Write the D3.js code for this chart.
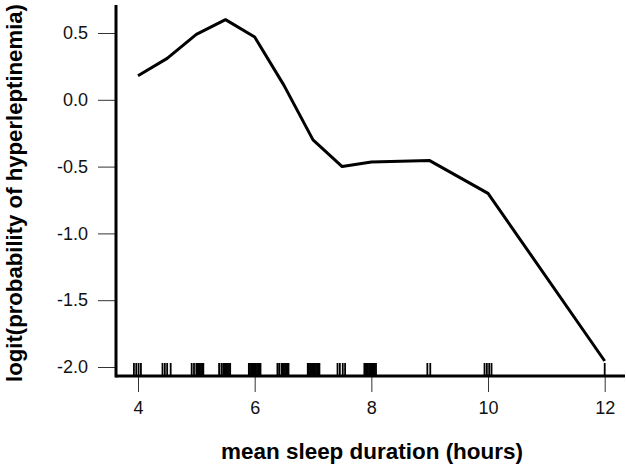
<!DOCTYPE html>
<html>
<head>
<meta charset="utf-8">
<script src="https://cdn.jsdelivr.net/npm/d3@7"></script>
<style>
  html, body { margin: 0; padding: 0; background: #fff; }
  svg { display: block; font-family: "Liberation Sans", Arial, sans-serif; }
</style>
</head>
<body>
<svg id="chart" width="626" height="468"></svg>
<script>
// fitted curve (mean sleep duration vs logit)
const sleepHours = [4, 4.5, 5, 5.5, 6, 6.5, 7, 7.5, 8, 8.5, 9, 10, 12];
const logitValues = [0.18, 0.31, 0.49, 0.60, 0.47, 0.11, -0.30, -0.50, -0.465, -0.46, -0.455, -0.70, -1.955];

// rug of observed sleep durations
const rugHours = [
  3.93, 3.97, 4.01, 4.05,
  4.42, 4.46, 4.50, 4.56,
  4.92, 4.96, 5.00, 5.02, 5.04, 5.06, 5.08, 5.10, 5.12,
  5.39, 5.43, 5.46, 5.48, 5.50, 5.52, 5.54, 5.56, 5.58,
  5.90, 5.92, 5.94, 5.96, 5.98, 6.00, 6.02, 6.04, 6.06, 6.08, 6.10,
  6.39, 6.42, 6.46, 6.48, 6.50, 6.52, 6.54, 6.56, 6.58,
  6.91, 6.93, 6.95, 6.97, 6.99, 7.01, 7.03, 7.05, 7.07, 7.09, 7.11,
  7.42, 7.46, 7.51, 7.55,
  7.88, 7.90, 7.92, 7.94, 7.96, 7.98, 8.00, 8.02, 8.04, 8.06, 8.08,
  8.96, 9.01,
  9.94, 9.98, 10.02, 10.06,
  12
];

const xTicks = [4, 6, 8, 10, 12];
const yTicks = [0.5, 0.0, -0.5, -1.0, -1.5, -2.0];

const svg = d3.select("#chart");

const x = d3.scaleLinear().domain([4, 12]).range([138, 604.7]);
const y = d3.scaleLinear().domain([-2, 0.5]).range([367, 33]);

const axisLeftX = 116, axisBottomY = 376;

// y axis ticks + labels
const gy = svg.append("g")
    .attr("transform", `translate(${axisLeftX},0)`)
    .call(d3.axisLeft(y).tickValues(yTicks).tickSize(18).tickPadding(10)
        .tickFormat(d3.format(".1f")));
gy.select(".domain").remove();
gy.selectAll(".tick line").attr("stroke", "#333").attr("stroke-width", 1);
gy.selectAll(".tick text")
    .attr("font-size", 18)
    .attr("font-family", "Liberation Sans, Arial, sans-serif")
    .attr("fill", "#111")
    .text(d => d3.format(".1f")(d).replace("−", "-"));

// x axis ticks + labels
const gx = svg.append("g")
    .attr("transform", `translate(0,${axisBottomY})`)
    .call(d3.axisBottom(x).tickValues(xTicks).tickSize(16).tickPadding(9)
        .tickFormat(d3.format("d")));
gx.select(".domain").remove();
gx.selectAll(".tick line").attr("stroke", "#333").attr("stroke-width", 1);
gx.selectAll(".tick text")
    .attr("font-size", 18)
    .attr("font-family", "Liberation Sans, Arial, sans-serif")
    .attr("fill", "#111");

// rug
svg.append("g")
    .selectAll("line")
    .data(rugHours)
    .join("line")
    .attr("x1", d => x(d)).attr("x2", d => x(d))
    .attr("y1", axisBottomY - 13).attr("y2", axisBottomY)
    .attr("stroke", "#000")
    .attr("stroke-width", 1.8);

// axis lines (thick)
svg.append("line")
    .attr("x1", axisLeftX).attr("x2", axisLeftX)
    .attr("y1", 5).attr("y2", axisBottomY + 1.5)
    .attr("stroke", "#000").attr("stroke-width", 3);
svg.append("line")
    .attr("x1", axisLeftX).attr("x2", 625)
    .attr("y1", axisBottomY).attr("y2", axisBottomY)
    .attr("stroke", "#000").attr("stroke-width", 3);

// curve
const line = d3.line()
    .x((d, i) => x(sleepHours[i]))
    .y(d => y(d));

svg.append("path")
    .datum(logitValues)
    .attr("d", line)
    .attr("fill", "none")
    .attr("stroke", "#000")
    .attr("stroke-width", 3)
    .attr("stroke-linejoin", "round");

// axis titles
svg.append("text")
    .attr("x", 372)
    .attr("y", 459)
    .attr("text-anchor", "middle")
    .attr("font-size", 22)
    .attr("font-weight", "bold")
    .attr("textLength", 302)
    .attr("lengthAdjust", "spacingAndGlyphs")
    .text("mean sleep duration (hours)");

svg.append("text")
    .attr("transform", "translate(22,193) rotate(-90)")
    .attr("text-anchor", "middle")
    .attr("font-size", 22)
    .attr("font-weight", "bold")
    .attr("textLength", 378)
    .attr("lengthAdjust", "spacingAndGlyphs")
    .text("logit(probability of hyperleptinemia)");
</script>
</body>
</html>
